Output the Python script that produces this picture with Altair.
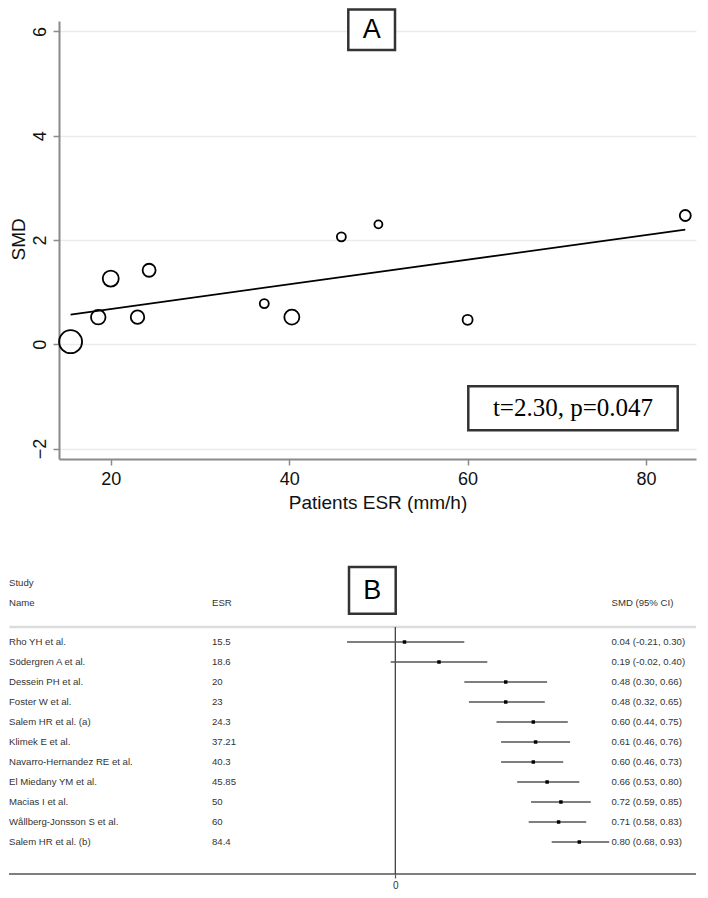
import altair as alt
import pandas as pd

# ---------------- data ----------------
studies = [
    "Rho YH et al.", "Södergren A et al.", "Dessein PH et al.", "Foster W et al.",
    "Salem HR et al. (a)", "Klimek E et al.", "Navarro-Hernandez RE et al.",
    "El Miedany YM et al.", "Macias I et al.", "Wållberg-Jonsson S et al.",
    "Salem HR et al. (b)",
]
esr = [15.5, 18.6, 20, 23, 24.3, 37.21, 40.3, 45.85, 50, 60, 84.4]
esr_labels = ["15.5", "18.6", "20", "23", "24.3", "37.21", "40.3", "45.85", "50", "60", "84.4"]
smd_a = [0.05, 0.52, 1.26, 0.52, 1.42, 0.78, 0.52, 2.06, 2.30, 0.47, 2.47]
weight = [23.0, 14.5, 16.0, 13.5, 13.0, 9.0, 15.0, 9.0, 8.0, 10.0, 11.0]

fit_x = [15.5, 84.4]
fit_y = [0.57, 2.20]

smd_b = [0.04, 0.19, 0.48, 0.48, 0.60, 0.61, 0.60, 0.66, 0.72, 0.71, 0.80]
ci_lo = [-0.21, -0.02, 0.30, 0.32, 0.44, 0.46, 0.46, 0.53, 0.59, 0.58, 0.68]
ci_hi = [0.30, 0.40, 0.66, 0.65, 0.75, 0.76, 0.73, 0.80, 0.85, 0.83, 0.93]

y_ticks = [-2, 0, 2, 4, 6]
x_ticks = [20, 40, 60, 80]

FONT = "Liberation Sans"
one = pd.DataFrame({"k": [0]})   # single row for annotations

# ---------------- panel A ----------------
dfa = pd.DataFrame({"esr": esr, "smd": smd_a, "w": weight})
dfl = pd.DataFrame({"esr": fit_x, "smd": fit_y})

OX = 59            # page x of plot origin (both panels)
TOP = 20.7         # page y of panel A plot top
WA, HA = 637, 438
xs = alt.Scale(domain=[14.2, 85.6], nice=False, zero=False)
ys = alt.Scale(domain=[-2.2, 6.2], nice=False, zero=False)

xax = alt.Axis(values=x_ticks, grid=False, title="Patients ESR (mm/h)",
               labelFontSize=18, titleFontSize=19, labelFont=FONT, titleFont=FONT,
               titleFontWeight="normal", labelColor="#111", titleColor="#111",
               domainColor="#8a8a8a", domainWidth=2, tickColor="#8a8a8a", tickWidth=1.5,
               tickSize=6, labelPadding=5, titlePadding=5)
yax = alt.Axis(values=y_ticks, grid=True, gridColor="#ebebeb", gridWidth=1.5,
               title=None, labelFontSize=18, labelFont=FONT, labelColor="#111",
               labelAngle=270, labelAlign="center", labelBaseline="bottom",
               domainColor="#8a8a8a", domainWidth=2, tickColor="#8a8a8a", tickWidth=1.5,
               tickSize=6, labelPadding=4)

pts = alt.Chart(dfa).mark_point(shape="circle", filled=False, color="black",
                                strokeWidth=1.8, opacity=1).encode(
    x=alt.X("esr:Q", scale=xs, axis=xax),
    y=alt.Y("smd:Q", scale=ys, axis=yax),
    size=alt.Size("w:Q", scale=alt.Scale(type="pow", exponent=2, domain=[0, 23], range=[0, 529]),
                  legend=None),
)
fit = alt.Chart(dfl).mark_line(color="black", strokeWidth=1.8).encode(
    x=alt.X("esr:Q", scale=xs), y=alt.Y("smd:Q", scale=ys))

ann = alt.Chart(one)
ytitle = ann.mark_text(font=FONT, fontSize=19, color="#111", angle=270, align="center",
                       baseline="middle").encode(
    x=alt.value(18.5 - OX), y=alt.value(239 - TOP), text=alt.value("SMD"))
boxA = ann.mark_rect(fill="white", stroke="#333", strokeWidth=2.5).encode(
    x=alt.value(348.3 - OX), x2=alt.value(395 - OX), y=alt.value(9.3 - TOP), y2=alt.value(49.7 - TOP))
txtA = ann.mark_text(font=FONT, fontSize=27, color="black", baseline="middle").encode(
    x=alt.value(371.7 - OX), y=alt.value(29.5 - TOP), text=alt.value("A"))

boxT = ann.mark_rect(fill="white", stroke="#333", strokeWidth=2.5).encode(
    x=alt.value(468.3 - OX), x2=alt.value(677.7 - OX), y=alt.value(386 - TOP), y2=alt.value(430 - TOP))
txtT = ann.mark_text(font="Liberation Serif", fontSize=25, color="black",
                     baseline="middle").encode(
    x=alt.value(573 - OX), y=alt.value(408 - TOP), text=alt.value("t=2.30, p=0.047"))

panelA = alt.layer(fit, pts, ytitle, boxA, txtA, boxT, txtT).properties(width=WA, height=HA)

# ---------------- panel B ----------------
dfb = pd.DataFrame({
    "study": studies, "esr_t": esr_labels, "smd": smd_b, "lo": ci_lo, "hi": ci_hi,
})
dfb["ci_t"] = [f"{s:.2f} ({l:.2f}, {h:.2f})" for s, l, h in zip(smd_b, ci_lo, ci_hi)]

OY = 562           # page y of panel B origin
WB, HB = 696 - OX, 872 - OY
Z = 395.3 - OX     # pixel of SMD = 0
PX = 230.0         # pixels per SMD unit
xb = alt.Scale(domain=[-Z / PX, (WB - Z) / PX], nice=False, zero=False)
yb = alt.Scale(type="point", domain=studies, range=[640 - OY, 840 - OY], padding=0)
xbax = alt.Axis(values=[0], format="d", grid=False, title=None, labelFontSize=10,
                labelFont=FONT, labelColor="#333", domain=False, tickColor="#555",
                tickSize=4, tickWidth=1.2, labelPadding=2)

base = alt.Chart(dfb)
ci = base.mark_rule(color="#555", strokeWidth=1.5).encode(
    x=alt.X("lo:Q", scale=xb, axis=xbax), x2="hi:Q",
    y=alt.Y("study:N", scale=yb, axis=None))
dots = base.mark_square(color="black", size=12, opacity=1).encode(
    x=alt.X("smd:Q", scale=xb), y=alt.Y("study:N", scale=yb))
zero = ann.mark_rule(color="#333", strokeWidth=1.2).encode(
    x=alt.X(datum=0, scale=xb), y=alt.value(625 - OY), y2=alt.value(HB))
hrule = ann.mark_rule(color="#dcdcdc", strokeWidth=2.5).encode(
    x=alt.value(9.5 - OX), x2=alt.value(WB), y=alt.value(625 - OY))
brule = ann.mark_rule(color="#555", strokeWidth=1.5).encode(
    x=alt.value(9 - OX), x2=alt.value(WB), y=alt.value(HB))

tstyle = dict(font=FONT, fontSize=9.6, color="#333", align="left", baseline="middle")
names = base.mark_text(**tstyle).encode(x=alt.value(9 - OX), y=alt.Y("study:N", scale=yb), text="study:N")
esrs = base.mark_text(**tstyle).encode(x=alt.value(212 - OX), y=alt.Y("study:N", scale=yb), text="esr_t:N")
cis = base.mark_text(**tstyle).encode(x=alt.value(611.5 - OX), y=alt.Y("study:N", scale=yb), text="ci_t:N")

h1 = ann.mark_text(**tstyle).encode(x=alt.value(9 - OX), y=alt.value(580.7 - OY), text=alt.value("Study"))
h2 = ann.mark_text(**tstyle).encode(x=alt.value(9 - OX), y=alt.value(600.7 - OY), text=alt.value("Name"))
h3 = ann.mark_text(**tstyle).encode(x=alt.value(212 - OX), y=alt.value(600.7 - OY), text=alt.value("ESR"))
h4 = ann.mark_text(**tstyle).encode(x=alt.value(611.5 - OX), y=alt.value(600.7 - OY), text=alt.value("SMD (95% CI)"))

boxB = ann.mark_rect(fill="white", stroke="#333", strokeWidth=2.5).encode(
    x=alt.value(349 - OX), x2=alt.value(395.7 - OX), y=alt.value(565 - OY), y2=alt.value(611.7 - OY))
txtB = ann.mark_text(font=FONT, fontSize=27, color="black", baseline="middle").encode(
    x=alt.value(372.3 - OX), y=alt.value(589 - OY), text=alt.value("B"))

panelB = alt.layer(hrule, brule, zero, ci, dots, names, esrs, cis, h1, h2, h3, h4,
                   boxB, txtB).properties(width=WB, height=HB)

chart = alt.vconcat(panelA, panelB, spacing=52).configure_view(strokeWidth=0).properties(padding=0)

chart.save("out.html", embed_options={"renderer": "svg", "actions": False})
